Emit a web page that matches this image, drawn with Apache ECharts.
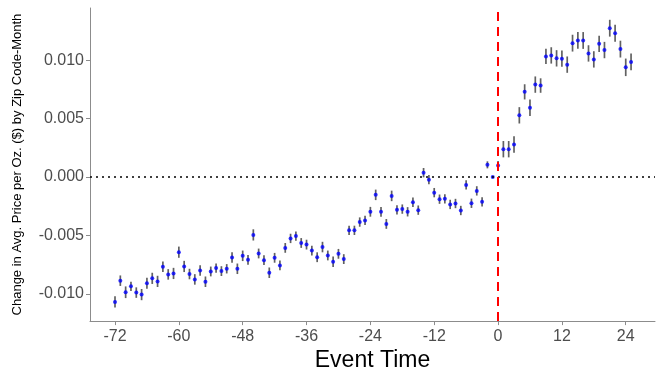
<!DOCTYPE html>
<html>
<head>
<meta charset="utf-8">
<script src="https://cdn.jsdelivr.net/npm/echarts@6/dist/echarts.min.js"></script>
<style>
  html, body { margin: 0; padding: 0; background: #fff; }
  #chart { width: 665px; height: 377px; }
</style>
</head>
<body>
<div id="chart"></div>
<script>
// Event-study coefficients: months relative to the event, -72 .. 25
const eventTime = [];
for (let t = -72; t <= 25; t++) eventTime.push(t);

// Point estimates (x 0.001 $ per oz.)
const estimate = [
  -10.70, -8.88, -9.87, -9.36, -9.90, -10.07, -9.10, -8.68, -8.94, -7.69,
  -8.34, -8.26, -6.44, -7.66, -8.31, -8.77, -8.00, -8.97, -8.09, -7.80,
  -8.06, -7.86, -6.89, -7.86, -6.75, -7.09, -4.96, -6.55, -7.12, -8.20,
  -6.92, -7.57, -6.07, -5.26, -5.06, -5.65, -5.79, -6.30, -6.87, -6.00,
  -6.72, -7.26, -6.58, -7.03, -4.57, -4.57, -3.86, -3.72, -2.98, -1.53,
  -2.98, -4.02, -1.62, -2.81, -2.75, -2.98, -2.16, -2.84, 0.37, -0.23,
  -1.34, -1.90, -1.87, -2.35, -2.27, -2.87, -0.68, -2.25, -1.19, -2.13,
  1.04, 0.00, 0.98, 2.38, 2.38, 2.78, 5.28, 7.29, 5.93, 7.91,
  7.83, 10.32, 10.41, 10.16, 10.13, 9.62, 11.46, 11.69, 11.69, 10.58,
  10.07, 11.40, 10.87, 12.74, 12.31, 10.95, 9.39, 9.85
];

// Half-width of the confidence interval (x 0.001)
const ciHalf = [
  0.48, 0.45, 0.50, 0.40, 0.45, 0.48, 0.48, 0.48, 0.48, 0.45,
  0.45, 0.48, 0.48, 0.48, 0.45, 0.45, 0.45, 0.45, 0.42, 0.40,
  0.42, 0.40, 0.45, 0.45, 0.45, 0.42, 0.48, 0.42, 0.42, 0.45,
  0.42, 0.42, 0.42, 0.40, 0.40, 0.42, 0.42, 0.42, 0.42, 0.45,
  0.42, 0.45, 0.42, 0.42, 0.40, 0.40, 0.40, 0.40, 0.42, 0.45,
  0.42, 0.42, 0.45, 0.40, 0.40, 0.40, 0.40, 0.40, 0.40, 0.40,
  0.40, 0.40, 0.40, 0.40, 0.40, 0.40, 0.40, 0.40, 0.40, 0.40,
  0.30, 0.00, 0.38, 0.70, 0.70, 0.70, 0.70, 0.65, 0.70, 0.70,
  0.62, 0.65, 0.70, 0.70, 0.70, 0.70, 0.72, 0.72, 0.72, 0.70,
  0.70, 0.70, 0.70, 0.72, 0.72, 0.72, 0.75, 0.72
];

const xTicks = [-72, -60, -48, -36, -24, -12, 0, 12, 24];
const yTicks = [-0.010, -0.005, 0.000, 0.005, 0.010];

const points = eventTime.map((t, i) => [t, estimate[i] / 1000]);
const bars = eventTime.map((t, i) => [t, (estimate[i] - ciHalf[i]) / 1000, (estimate[i] + ciHalf[i]) / 1000]);

const axisGray = '#8c8c8c';
const labelGray = '#4d4d4d';
const fontFam = 'Liberation Sans, Arial, sans-serif';

const chart = echarts.init(document.getElementById('chart'), null, { renderer: 'canvas' });
chart.setOption({
  animation: false,
  backgroundColor: '#fff',
  grid: { left: 90, right: 10, top: 8, bottom: 54, containLabel: false },
  xAxis: {
    type: 'value',
    min: -76.7,
    max: 29.5,
    name: 'Event Time',
    nameLocation: 'middle',
    nameGap: 26,
    nameTextStyle: { fontSize: 23, color: '#000', fontFamily: fontFam },
    axisLine: { show: true, onZero: false, lineStyle: { color: axisGray, width: 1 } },
    axisTick: { show: true, length: 4, customValues: xTicks, lineStyle: { color: axisGray } },
    axisLabel: { customValues: xTicks, fontSize: 16, color: labelGray, fontFamily: fontFam, margin: 7 },
    splitLine: { show: false }
  },
  yAxis: {
    type: 'value',
    min: -0.01234,
    max: 0.01447,
    name: 'Change in Avg. Price per Oz. ($) by Zip Code-Month',
    nameLocation: 'middle',
    nameGap: 66,
    nameTextStyle: { fontSize: 13, color: '#000', fontFamily: fontFam },
    axisLine: { show: true, onZero: false, lineStyle: { color: axisGray, width: 1 } },
    axisTick: { show: true, length: 4, customValues: yTicks, lineStyle: { color: axisGray } },
    axisLabel: {
      customValues: yTicks, fontSize: 16, color: labelGray, fontFamily: fontFam, margin: 6,
      formatter: v => v.toFixed(3)
    },
    splitLine: { show: false }
  },
  series: [
    {
      // confidence-interval whiskers
      type: 'custom',
      data: bars,
      renderItem: (params, api) => {
        const x = api.value(0);
        const lo = api.coord([x, api.value(1)]);
        const hi = api.coord([x, api.value(2)]);
        return {
          type: 'line',
          shape: { x1: lo[0], y1: lo[1], x2: hi[0], y2: hi[1] },
          style: { stroke: 'rgba(30,30,30,0.7)', lineWidth: 1.7 }
        };
      },
      z: 2
    },
    {
      type: 'scatter',
      data: points,
      symbol: 'circle',
      symbolSize: 4,
      itemStyle: { color: '#0000ff' },
      z: 3,
      markLine: {
        silent: true,
        symbol: ['none', 'none'],
        label: { show: false },
        animation: false,
        data: [
          { yAxis: 0, lineStyle: { color: '#000', type: [2, 4], width: 1.5 } },
          { xAxis: 0, lineStyle: { color: '#ff0000', type: [9, 6], width: 2 } }
        ]
      }
    }
  ]
});
</script>
</body>
</html>
